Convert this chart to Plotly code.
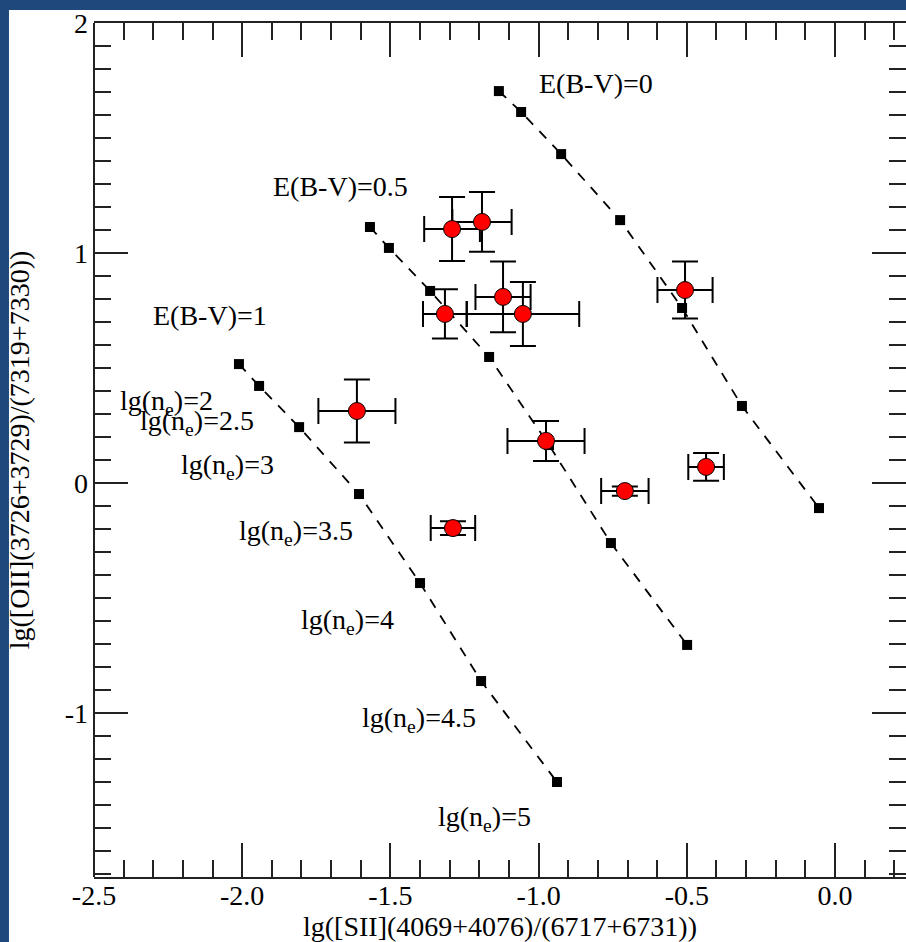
import plotly.graph_objects as go

# --- model grids (lg(ne) = 2, 2.5, 3, 3.5, 4, 4.5, 5) ---
ebv0_x = [-1.134, -1.059, -0.924, -0.725, -0.516, -0.314, -0.054]
ebv0_y = [1.704, 1.613, 1.430, 1.143, 0.761, 0.335, -0.109]
ebv05_x = [-1.569, -1.505, -1.366, -1.167, -0.965, -0.756, -0.499]
ebv05_y = [1.113, 1.022, 0.835, 0.548, 0.165, -0.261, -0.704]
ebv1_x = [-2.011, -1.943, -1.808, -1.606, -1.400, -1.194, -0.938]
ebv1_y = [0.517, 0.422, 0.243, -0.048, -0.435, -0.861, -1.300]

# --- observed points ---
obs_x = [-1.292, -1.191, -1.316, -1.120, -1.053, -0.506, -1.613, -0.975, -0.709, -0.435, -1.289]
obs_y = [1.104, 1.135, 0.735, 0.809, 0.735, 0.839, 0.313, 0.183, -0.035, 0.070, -0.196]
obs_ex = [0.094, 0.100, 0.074, 0.093, 0.190, 0.093, 0.130, 0.130, 0.080, 0.060, 0.075]
obs_ey = [0.139, 0.130, 0.107, 0.154, 0.139, 0.124, 0.137, 0.087, 0.020, 0.060, 0.030]

# --- labels ---
ebv_labels = ["E(B-V)=0", "E(B-V)=0.5", "E(B-V)=1"]
ebv_label_x = [-0.806, -1.670, -2.109]
ebv_label_y = [1.739, 1.287, 0.730]
ne_labels = ["lg(n<sub>e</sub>)=2", "lg(n<sub>e</sub>)=2.5", "lg(n<sub>e</sub>)=3",
             "lg(n<sub>e</sub>)=3.5", "lg(n<sub>e</sub>)=4", "lg(n<sub>e</sub>)=4.5",
             "lg(n<sub>e</sub>)=5"]
ne_label_x = [-2.255, -2.154, -2.051, -1.818, -1.645, -1.405, -1.184]
ne_label_y = [0.348, 0.261, 0.070, -0.213, -0.604, -1.030, -1.457]

x_tickvals = [-2.5, -2.0, -1.5, -1.0, -0.5, 0.0]
x_ticktext = ["-2.5", "-2.0", "-1.5", "-1.0", "-0.5", "0.0"]
y_tickvals = [-1, 0, 1, 2]
y_ticktext = ["-1", "0", "1", "2"]

FONT = "Liberation Serif, Times New Roman, serif"
FS = 28
AX = "#222222"

fig = go.Figure()

for gx, gy in [(ebv0_x, ebv0_y), (ebv05_x, ebv05_y), (ebv1_x, ebv1_y)]:
    fig.add_trace(go.Scatter(
        x=gx, y=gy, mode="lines+markers",
        line=dict(color="black", width=1.8, dash="10px,9px"),
        marker=dict(symbol="square", size=10, color="black"),
        showlegend=False, hoverinfo="skip"))

fig.add_trace(go.Scatter(
    x=obs_x, y=obs_y, mode="markers",
    marker=dict(symbol="circle", size=17, color="#ff0000",
                line=dict(color="black", width=1)),
    error_x=dict(type="data", array=obs_ex, color="black", thickness=2, width=13),
    error_y=dict(type="data", array=obs_ey, color="black", thickness=2, width=13),
    showlegend=False))

for t, x, y in zip(ebv_labels, ebv_label_x, ebv_label_y):
    fig.add_annotation(x=x, y=y, text=t, showarrow=False,
                       font=dict(family=FONT, size=FS, color="black"))
for t, x, y in zip(ne_labels, ne_label_x, ne_label_y):
    fig.add_annotation(x=x, y=y, text=t, showarrow=False,
                       font=dict(family=FONT, size=FS, color="black"))

# white page area over blue frame
fig.add_shape(type="rect", xref="paper", yref="paper",
              x0=-0.1047, x1=1.01, y0=-0.1, y1=1.0152,
              fillcolor="white", line=dict(width=0), layer="below")
# left frame line (right frame edge lies just outside the picture)
fig.add_shape(type="line", xref="paper", yref="paper",
              x0=0, x1=0, y0=0, y1=1, line=dict(color=AX, width=2), layer="above")

tick_common = dict(
    ticks="inside", ticklen=34, tickwidth=2, tickcolor=AX,
    showgrid=False, zeroline=False,
    tickfont=dict(family=FONT, size=FS, color="black"),
)
minor = dict(dtick=0.1, tick0=0, ticks="inside", ticklen=17, tickwidth=2,
             tickcolor=AX, showgrid=False)

fig.update_xaxes(
    range=[-2.5, 0.2395], tickmode="array", tickvals=x_tickvals, ticktext=x_ticktext,
    showline=True, linecolor=AX, linewidth=2, mirror="ticks",
    minor=minor, ticklabelstandoff=-8,
    title=dict(text="lg([SII](4069+4076)/(6717+6731))",
               font=dict(family=FONT, size=FS, color="black"), standoff=5),
    **tick_common)
fig.update_yaxes(
    range=[-1.713, 2.0], tickmode="array", tickvals=y_tickvals, ticktext=y_ticktext,
    showline=False, mirror="ticks",
    minor=minor, ticklabelstandoff=5,
    title=dict(text="lg([OII](3726+3729)/(7319+7330))",
               font=dict(family=FONT, size=FS, color="black"), standoff=26),
    **tick_common)

fig.update_layout(
    width=906, height=942,
    margin=dict(l=94, r=0, t=23, b=65, autoexpand=False),
    paper_bgcolor="#1F497D", plot_bgcolor="white",
    showlegend=False,
)

fig.write_html(
    "out.html",
    post_script="document.body.style.margin='0';document.body.style.overflow='hidden';",
)
